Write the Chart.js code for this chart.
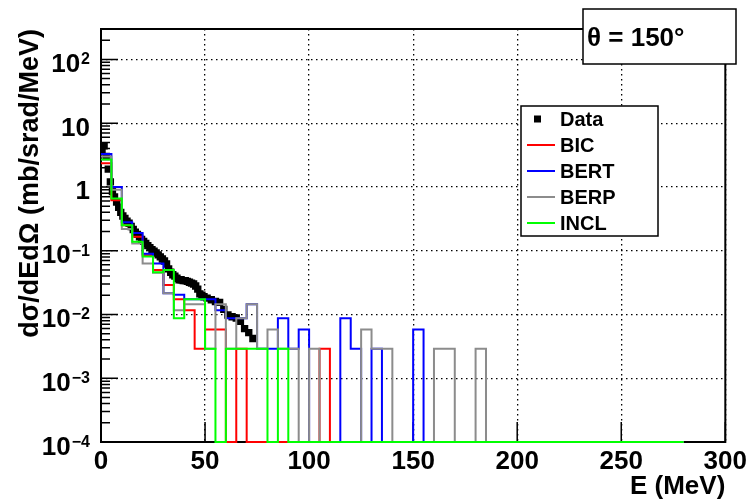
<!DOCTYPE html>
<html>
<head>
<meta charset="utf-8">
<script src="https://cdn.jsdelivr.net/npm/chart.js@4.4.1/dist/chart.umd.min.js"></script>
<style>
    html, body { margin: 0; padding: 0; background: #fff; }
</style>
</head>
<body>
<canvas id="myChart" width="751" height="502"></canvas>
<script>
// measured energies (MeV) and cross sections of the data points
const dataE = [0.5, 1.5, 2.5, 3.5, 4.5, 5.5, 6.5, 7.5, 8.5, 9.5, 10.5, 11.5, 12.5, 13.5, 14.5, 15.5, 16.5, 17.5, 18.5, 19.5,
    20.5, 21.5, 22.5, 23.5, 24.5, 25.5, 26.5, 27.5, 28.5, 29.5, 30.5, 31.5, 32.5, 33.5, 34.5, 35.5, 36.5, 37.5, 38.5, 39.5,
    40.5, 41.5, 42.5, 43.5, 44.5, 45.5, 46.5, 47.5, 48.5, 49.5, 51, 53, 55, 57, 59, 61, 63, 65, 67, 69, 71, 73];
const dataXs = [3.6, 4.4, 3.0, 1.9, 1.2, 0.85, 0.7, 0.58, 0.48, 0.4, 0.35, 0.32, 0.29, 0.27, 0.24, 0.215, 0.195, 0.18, 0.165, 0.15,
    0.14, 0.13, 0.12, 0.112, 0.104, 0.098, 0.092, 0.086, 0.08, 0.074, 0.069, 0.062, 0.052, 0.046, 0.042, 0.04, 0.037, 0.035, 0.035, 0.034,
    0.034, 0.033, 0.032, 0.031, 0.03, 0.028, 0.025, 0.021, 0.02, 0.019, 0.018, 0.017, 0.016, 0.0155, 0.012, 0.0098, 0.0092, 0.0088, 0.0078, 0.006, 0.0052, 0.0042];

// model histograms, 5 MeV bins starting at 0 (empty bins = 0)
const bicBins = [2.35, 0.62, 0.25, 0.166, 0.085, 0.05, 0.029, 0.0174, 0.0116, 0.0029, 0.0058, 0.0058, 0, 0.0029, 0, 0,
    0, 0, 0, 0, 0, 0.0029];
const bertBins = [3.3, 1.0, 0.28, 0.19, 0.09, 0.063, 0.0215, 0.0203, 0.0174, 0.0174, 0.0174, 0.0116, 0.0087, 0.0087, 0.0145, 0.0029,
    0.0029, 0.0087, 0.0029, 0.0058, 0, 0, 0, 0.0087, 0.0029, 0, 0.0029, 0, 0, 0, 0.0058];
const berpBins = [3.0, 0.9, 0.22, 0.13, 0.063, 0.045, 0.0215, 0.0116, 0.0145, 0.0145, 0.0029, 0.0145, 0.0029, 0.0087, 0.0145, 0.0029,
    0.0058, 0.0029, 0.0029, 0, 0.0029, 0, 0, 0, 0, 0.0058, 0.0029, 0.0029, 0, 0, 0, 0, 0.0029, 0.0029, 0, 0, 0.0029];
const inclBins = [2.7, 0.66, 0.25, 0.138, 0.081, 0.046, 0.05, 0.0087, 0.0174, 0.0174, 0.0029, 0, 0.0029, 0.0029, 0.0029, 0.0029,
    0, 0.0029];

const binWidth = 5;
const histEnd = 280;

// axes
const xMin = 0, xMax = 300;
const xTickValues = [0, 50, 100, 150, 200, 250, 300];
const yMin = 1e-4, yMax = 300;
const yTickValues = [1e-4, 1e-3, 1e-2, 1e-1, 1, 10, 100];
const yTickLabels = [['10', '\u22124'], ['10', '\u22123'], ['10', '\u22122'], ['10', '\u22121'], ['1', ''], ['10', ''], ['10', '2']];

const FONT = '"Liberation Sans", Arial, Helvetica, sans-serif';

//turn bin contents into step points (empty bins drop to the frame bottom)
function histPoints(bins) {
    let pts = bins.map((v, i) => ({x: i * binWidth, y: v > 0 ? v : yMin}));
    pts.push({x: bins.length * binWidth, y: yMin});
    pts.push({x: histEnd, y: yMin});
    return pts;
}

function histSet(label, bins, color, order) {
    return {
        label: label,
        data: histPoints(bins),
        showLine: true,
        stepped: 'before',
        borderColor: color,
        backgroundColor: color,
        borderWidth: 2,
        pointRadius: 0,
        fill: false,
        clip: false,
        order: order,
    };
}

//frame and inward ticks go under the histograms
const framePlugin = {
    id: 'frame',
    beforeDatasetsDraw(chart) {
        const {ctx, chartArea: a, scales: {x, y}} = chart;
        ctx.save();
        ctx.strokeStyle = '#000';
        ctx.lineWidth = 1.5;
        ctx.beginPath();
        xTickValues.forEach(v => {
            const px = x.getPixelForValue(v);
            ctx.moveTo(px, a.bottom);
            ctx.lineTo(px, a.bottom - 20);
        });
        for (let e = -4; e <= 2; e++) {
            for (let m = 1; m <= 9; m++) {
                const v = m * Math.pow(10, e);
                if (v > yMax) break;
                const py = y.getPixelForValue(v);
                ctx.moveTo(a.left, py);
                ctx.lineTo(a.left + (m === 1 ? 17 : 9), py);
            }
        }
        ctx.stroke();
        ctx.lineWidth = 2;
        ctx.strokeRect(a.left, a.top, a.right - a.left, a.bottom - a.top);
        ctx.restore();
    }
};

//y labels, legend and angle box on top
const decorPlugin = {
    id: 'decor',
    afterDraw(chart) {
        const {ctx, chartArea: a, scales: {y}} = chart;
        ctx.save();

        // y tick labels with exponents
        ctx.fillStyle = '#000';
        yTickValues.forEach((v, i) => {
            const base = yTickLabels[i][0], exp = yTickLabels[i][1];
            const py = y.getPixelForValue(v) + 3;
            let right = a.left - 11;
            ctx.textAlign = 'right';
            ctx.textBaseline = 'alphabetic';
            if (exp) {
                ctx.font = 'bold 16px ' + FONT;
                ctx.fillText(exp, right, py + 2);
                right -= ctx.measureText(exp).width + 1;
            }
            ctx.font = 'bold 26px ' + FONT;
            ctx.fillText(base, right, py + 9.5);
        });

        // legend box
        const lx = 521, ly = 106, lw = 137, lh = 130;
        ctx.fillStyle = '#fff';
        ctx.fillRect(lx, ly, lw, lh);
        ctx.lineWidth = 1.5;
        ctx.strokeStyle = '#000';
        ctx.strokeRect(lx, ly, lw, lh);
        const rows = [119, 145, 171, 197, 223];
        chart.data.datasets.forEach((ds, i) => {
            const ry = rows[i];
            if (ds.showLine) {
                ctx.strokeStyle = ds.borderColor;
                ctx.lineWidth = 2;
                ctx.beginPath();
                ctx.moveTo(527, ry);
                ctx.lineTo(555, ry);
                ctx.stroke();
            } else {
                ctx.fillStyle = '#000';
                ctx.fillRect(534, ry - 3.5, 7, 7);
            }
            ctx.fillStyle = '#000';
            ctx.font = 'bold 20px ' + FONT;
            ctx.textAlign = 'left';
            ctx.textBaseline = 'middle';
            ctx.fillText(ds.label, 560, ry + 1);
        });

        // angle box
        ctx.fillStyle = '#fff';
        ctx.fillRect(583, 9, 153, 55);
        ctx.strokeStyle = '#000';
        ctx.lineWidth = 1.5;
        ctx.strokeRect(583, 9, 153, 55);
        ctx.fillStyle = '#000';
        ctx.font = 'bold 26px ' + FONT;
        ctx.textAlign = 'left';
        ctx.textBaseline = 'alphabetic';
        ctx.fillText('\u03b8 = 150\u00b0', 587, 46);

        ctx.restore();
    }
};

//render chart
function renderChart() {
    const ctx = document.getElementById('myChart');
    new Chart(ctx, {
        type: 'scatter',
        data: {
            datasets: [
                {
                    label: 'Data',
                    data: dataE.map((e, i) => ({x: e, y: dataXs[i]})),
                    showLine: false,
                    pointStyle: 'rect',
                    pointRadius: 5.2,
                    pointBackgroundColor: '#000',
                    pointBorderWidth: 0,
                    borderColor: '#000',
                    backgroundColor: '#000',
                    order: 4,
                },
                histSet('BIC', bicBins, '#ff0000', 3),
                histSet('BERT', bertBins, '#0000ff', 2),
                histSet('BERP', berpBins, '#8c8c8c', 1),
                histSet('INCL', inclBins, '#00ff00', 0),
            ]
        },
        options: {
            responsive: false,
            animation: false,
            layout: {padding: {top: 29, right: 23, left: 0, bottom: 0}},
            plugins: {
                legend: {display: false},
                tooltip: {enabled: false},
            },
            scales: {
                x: {
                    type: 'linear',
                    min: xMin,
                    max: xMax,
                    afterBuildTicks: scale => { scale.ticks = xTickValues.map(v => ({value: v})); },
                    afterFit: scale => { scale.height = 60; },
                    ticks: {
                        color: '#000',
                        padding: 4,
                        maxRotation: 0,
                        font: {family: FONT, weight: 'bold', size: 26},
                    },
                    grid: {color: '#000', lineWidth: 1.3, drawTicks: false},
                    border: {display: false, dash: [1.5, 3.5]},
                    title: {
                        display: true,
                        text: 'E (MeV)',
                        align: 'end',
                        color: '#000',
                        padding: 0,
                        font: {family: FONT, weight: 'bold', size: 26},
                    },
                },
                y: {
                    type: 'logarithmic',
                    min: yMin,
                    max: yMax,
                    afterBuildTicks: scale => { scale.ticks = yTickValues.map(v => ({value: v})); },
                    afterFit: scale => { scale.width = 101; },
                    ticks: {display: false},
                    grid: {color: '#000', lineWidth: 1.3, drawTicks: false},
                    border: {display: false, dash: [1.5, 3.5]},
                    title: {
                        display: true,
                        text: 'd\u03c3/dEd\u03a9 (mb/srad/MeV)',
                        align: 'end',
                        color: '#000',
                        padding: {top: 14, bottom: 0},
                        font: {family: FONT, weight: 'bold', size: 27},
                    },
                },
            },
        },
        plugins: [framePlugin, decorPlugin],
    });
}

renderChart();
</script>
</body>
</html>
